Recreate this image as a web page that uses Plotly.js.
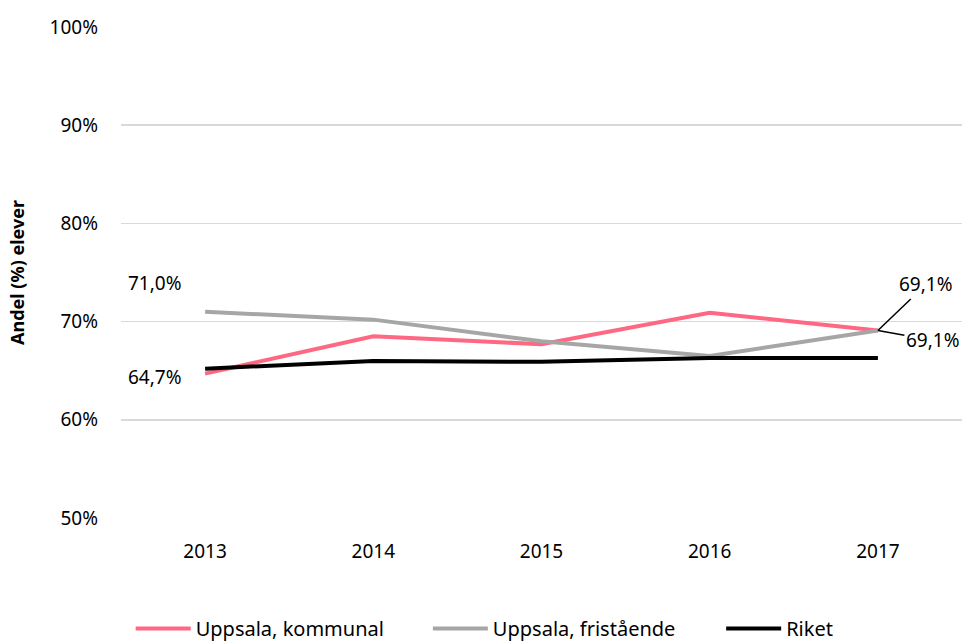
<!DOCTYPE html>
<html>
<head>
<meta charset="utf-8">
<script src="https://cdn.plot.ly/plotly-3.0.1.min.js"></script>
<style>html,body{margin:0;padding:0;background:#fff}#chart{width:968px;height:644px}</style>
</head>
<body>
<div id="chart"></div>
<script>
const years = ['2013', '2014', '2015', '2016', '2017'];
const kommunal = [64.7, 68.5, 67.7, 70.9, 69.1];
const fristaende = [71.0, 70.2, 68.0, 66.5, 69.1];
const riket = [65.2, 66.0, 65.9, 66.3, 66.3];
const seriesNames = ['Uppsala, kommunal', 'Uppsala, fristående', 'Riket'];
const yTicks = [50, 60, 70, 80, 90, 100];

const fmt = v => v.toFixed(1).replace('.', ',') + '%';
const FONT = 'Noto Sans, sans-serif';

try {
const traces = [
  {x: years, y: kommunal, name: seriesNames[0], type: 'scatter', mode: 'lines',
   line: {color: '#ff6882', width: 4}, legend: 'legend'},
  {x: years, y: fristaende, name: seriesNames[1], type: 'scatter', mode: 'lines',
   line: {color: '#a6a6a6', width: 4}, legend: 'legend2'},
  {x: years, y: riket, name: seriesNames[2], type: 'scatter', mode: 'lines',
   line: {color: '#000000', width: 4}, legend: 'legend3'}
];

const annFont = {family: FONT, size: 19, color: '#000'};
const annotations = [
  {xref: 'x', yref: 'y', x: 0, y: fristaende[0], text: fmt(fristaende[0]), showarrow: false,
   xanchor: 'center', yanchor: 'bottom', xshift: -50, yshift: 14, font: annFont},
  {xref: 'x', yref: 'y', x: 0, y: kommunal[0], text: fmt(kommunal[0]), showarrow: false,
   xanchor: 'center', yanchor: 'middle', xshift: -50, yshift: -3, font: annFont},
  {xref: 'x', yref: 'y', x: 4, y: kommunal[4], text: fmt(kommunal[4]), showarrow: true,
   arrowhead: 0, arrowwidth: 1.5, arrowcolor: '#000', ax: 48, ay: -46,
   font: annFont},
  {xref: 'x', yref: 'y', x: 4, y: fristaende[4], text: fmt(fristaende[4]), showarrow: true,
   arrowhead: 0, arrowwidth: 1.5, arrowcolor: '#000', ax: 55, ay: 10,
   font: annFont}
];

const legBase = {orientation: 'h', xref: 'container', yref: 'container',
  xanchor: 'left', y: 0.024, yanchor: 'middle', itemwidth: 55,
  font: {family: FONT, size: 20, color: '#000'}};

const layout = {
  width: 968, height: 644,
  paper_bgcolor: '#fff', plot_bgcolor: '#fff',
  separators: ', ',
  margin: {l: 121, r: 6, t: 27, b: 126},
  font: {family: FONT, size: 19, color: '#000'},
  showlegend: true,
  legend: Object.assign({}, legBase, {x: 0.135}),
  legend2: Object.assign({}, legBase, {x: 0.442}),
  legend3: Object.assign({}, legBase, {x: 0.745}),
  xaxis: {type: 'category', range: [-0.5, 4.5], showgrid: false, zeroline: false,
    showline: false, ticks: '', tickfont: {family: FONT, size: 19}, ticklabelstandoff: 20},
  yaxis: {range: [50, 100], tickvals: yTicks, ticktext: yTicks.map(v => v + '%'),
    showgrid: true, gridcolor: '#d9d9d9', gridwidth: 1.5, zeroline: false, showline: false,
    ticks: '', tickfont: {family: FONT, size: 19}, ticklabelstandoff: 22,
    title: {text: '<b>Andel (%) elever</b>', font: {family: FONT, size: 18}, standoff: 20}},
  annotations: annotations
};

Plotly.newPlot('chart', traces, layout, {displayModeBar: false, staticPlot: true});
} catch (e) {
  document.body.insertAdjacentHTML('beforeend', '<pre>' + e + '</pre>');
}
</script>
</body>
</html>
